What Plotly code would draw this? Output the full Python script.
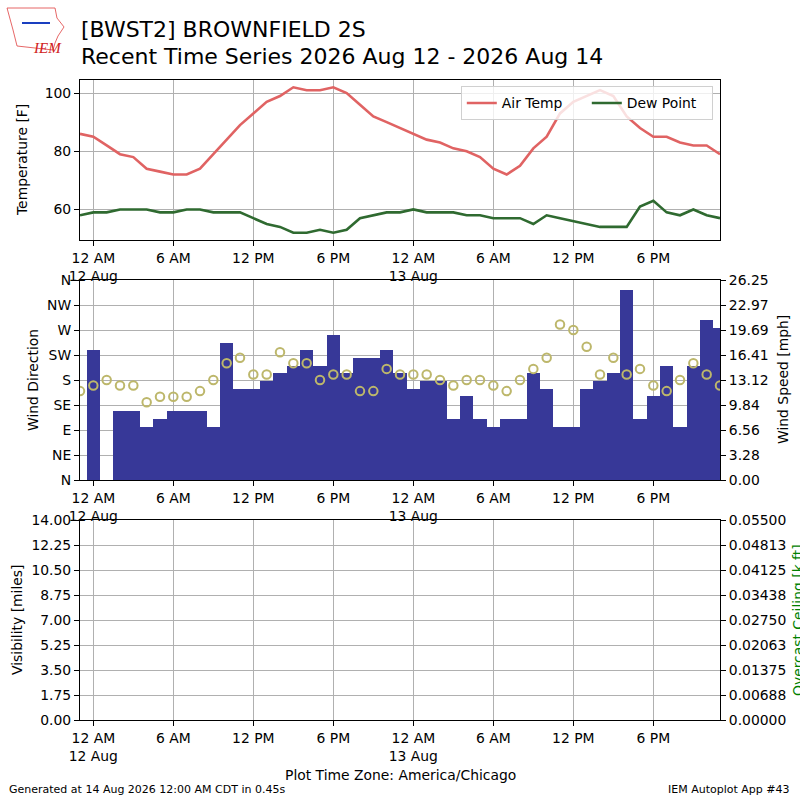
import pandas as pd
import plotly.graph_objects as go

# hourly observations, 11 PM 11 Aug through 11 PM 13 Aug (CDT)
times = pd.date_range("2026-08-11 23:00", periods=49, freq="h")

air_temp = [86, 85, 82, 79, 78, 74, 73, 72, 72, 74, 79, 84, 89, 93, 97, 99, 102, 101, 101,
            102, 100, 96, 92, 90, 88, 86, 84, 83, 81, 80, 78, 74, 72, 75, 81, 85, 93, 97,
            99, 101, 99, 92, 88, 85, 85, 83, 82, 82, 79]
dew_point = [58, 59, 59, 60, 60, 60, 59, 59, 60, 60, 59, 59, 59, 57, 55, 54, 52, 52, 53,
             52, 53, 57, 58, 59, 59, 60, 59, 59, 59, 58, 58, 57, 57, 57, 55, 58, 57, 56,
             55, 54, 54, 54, 61, 63, 59, 58, 60, 58, 57]
wind_speed = [0, 17, 0, 9, 9, 7, 8, 9, 9, 9, 7, 18, 12, 12, 13, 14, 15, 17, 15, 19, 14, 16,
              16, 17, 14, 12, 13, 13, 8, 11, 8, 7, 8, 8, 14, 12, 7, 7, 12, 13, 14, 25, 8,
              11, 15, 7, 15, 21, 20]
wind_dir = [160, 170, 180, 170, 170, 140, 150, 150, 150, 160, 180, 210, 220, 190, 190, 230,
            210, 210, 180, 190, 190, 160, 160, 200, 190, 190, 190, 180, 170, 180, 180, 170,
            160, 180, 200, 220, 280, 270, 240, 190, 220, 190, 200, 170, 160, 180, 210, 190,
            170]

x_tickvals = ["2026-08-12 00:00", "2026-08-12 06:00", "2026-08-12 12:00", "2026-08-12 18:00",
              "2026-08-13 00:00", "2026-08-13 06:00", "2026-08-13 12:00", "2026-08-13 18:00"]
x_ticktext = ["12 AM<br>12 Aug", "6 AM", "12 PM", "6 PM",
              "12 AM<br>13 Aug", "6 AM", "12 PM", "6 PM"]
temp_ticks = [60, 80, 100]
dir_ticks = [0, 45, 90, 135, 180, 225, 270, 315, 360]
dir_labels = ["N", "NE", "E", "SE", "S", "SW", "W", "NW", "N"]
speed_ticks = [0, 3.28125, 6.5625, 9.84375, 13.125, 16.40625, 19.6875, 22.96875, 26.25]
speed_labels = ["0.00", "3.28", "6.56", "9.84", "13.12", "16.41", "19.69", "22.97", "26.25"]
vis_ticks = [0, 1.75, 3.5, 5.25, 7, 8.75, 10.5, 12.25, 14]
vis_labels = ["0.00", "1.75", "3.50", "5.25", "7.00", "8.75", "10.50", "12.25", "14.00"]
ceil_ticks = [0, 0.006875, 0.01375, 0.020625, 0.0275, 0.034375, 0.04125, 0.048125, 0.055]
ceil_labels = ["0.00000", "0.00688", "0.01375", "0.02063", "0.02750", "0.03438", "0.04125",
               "0.04813", "0.05500"]

FONT = "DejaVu Sans"
FS = 13.9
GRID = "#b0b0b0"

fig = go.Figure()
fig.add_trace(go.Scatter(x=times, y=air_temp, mode="lines", name="Air Temp",
                         line=dict(color="#e06363", width=2.6), xaxis="x", yaxis="y"))
fig.add_trace(go.Scatter(x=times, y=dew_point, mode="lines", name="Dew Point",
                         line=dict(color="#2f6a30", width=2.6), xaxis="x", yaxis="y"))
fig.add_trace(go.Bar(x=times, y=wind_speed, width=3600 * 1000, marker_color="#373898",
                     marker_line_width=0, showlegend=False, xaxis="x2", yaxis="y3"))
fig.add_trace(go.Scatter(x=times, y=wind_dir, mode="markers", showlegend=False,
                         marker=dict(symbol="circle-open", size=8.5, color="#bdb76b",
                                     line=dict(width=2)),
                         xaxis="x2", yaxis="y4"))
fig.add_trace(go.Scatter(x=[], y=[], showlegend=False, xaxis="x3", yaxis="y5"))
fig.add_trace(go.Scatter(x=[], y=[], showlegend=False, xaxis="x3", yaxis="y6"))

xrange = ["2026-08-11 23:00", "2026-08-13 23:00"]
xcommon = dict(domain=[0.1, 0.9], type="date", range=xrange, tickmode="array",
               tickvals=x_tickvals, ticktext=x_ticktext, showgrid=True, gridcolor=GRID,
               gridwidth=1, ticks="outside", ticklen=5, tickcolor="black",
               showline=True, linecolor="black", linewidth=1.1, mirror=True,
               tickfont=dict(family=FONT, size=FS, color="black"), zeroline=False,
               automargin=False)
ycommon = dict(ticks="outside", ticklen=5, tickcolor="black", showline=True,
               linecolor="black", linewidth=1.1, zeroline=False, tickmode="array",
               tickfont=dict(family=FONT, size=FS, color="black"), gridcolor=GRID,
               gridwidth=1, automargin=False)

fig.update_layout(
    width=800, height=800,
    margin=dict(l=0, r=0, t=0, b=0, autoexpand=False),
    paper_bgcolor="white", plot_bgcolor="white",
    font=dict(family=FONT, size=FS, color="black"),
    bargap=0,
    xaxis=dict(xcommon, anchor="y"),
    xaxis2=dict(xcommon, anchor="y3"),
    xaxis3=dict(xcommon, anchor="y5"),
    yaxis=dict(ycommon, domain=[0.7, 0.9], range=[49.5, 104.5], tickvals=temp_ticks,
               showgrid=True, mirror=True, anchor="x"),
    yaxis3=dict(ycommon, domain=[0.4, 0.65], range=[0, 26.25], tickvals=speed_ticks,
                ticktext=speed_labels, side="right", showgrid=True, anchor="x2"),
    yaxis4=dict(ycommon, overlaying="y3", range=[0, 360], tickvals=dir_ticks,
                ticktext=dir_labels, side="left", showgrid=False, anchor="x2"),
    yaxis5=dict(ycommon, domain=[0.1, 0.35], range=[0, 14], tickvals=vis_ticks,
                ticktext=vis_labels, side="left", showgrid=True, anchor="x3"),
    yaxis6=dict(ycommon, overlaying="y5", range=[0, 0.055], tickvals=ceil_ticks,
                ticktext=ceil_labels, side="right", showgrid=False, anchor="x3"),
    legend=dict(orientation="h", x=0.891, xanchor="right", y=0.892, yanchor="top",
                bgcolor="rgba(255,255,255,0.8)", bordercolor="#d0d0d0", borderwidth=1,
                entrywidth=80, entrywidthmode="pixels",
                font=dict(family=FONT, size=FS)),
)


def pp(x, y):
    return x / 800, 1 - y / 800


def note(text, x, y, size=FS, color="black", angle=0, xanchor="center", yanchor="middle"):
    px, py = pp(x, y)
    fig.add_annotation(text=text, x=px, y=py, xref="paper", yref="paper", showarrow=False,
                       textangle=angle, xanchor=xanchor, yanchor=yanchor,
                       font=dict(family=FONT, size=size, color=color))


note("[BWST2] BROWNFIELD 2S", 79, 30, size=22, xanchor="left")
note("Recent Time Series 2026 Aug 12 - 2026 Aug 14", 79, 56.5, size=22, xanchor="left")
note("Temperature [F]", 22, 160, angle=-90)
note("Wind Direction", 33, 380, angle=-90)
note("Wind Speed [mph]", 783, 380, angle=-90)
note("Visibility [miles]", 17, 620, angle=-90)
note("Overcast Ceiling [k ft]", 798, 620, color="green", angle=-90)
note("Plot Time Zone: America/Chicago", 400, 775)
note("Generated at 14 Aug 2026 12:00 AM CDT in 0.45s", 7, 789, size=11, xanchor="left")
note("IEM Autoplot App #43", 792, 789, size=11, xanchor="right")

# rough IEM logo: state outline, station glyph and lettering
outline = [(7, 8), (55, 8), (57, 18), (64, 27), (58, 36), (55, 43), (53, 50), (17, 46), (13, 30)]
path = "M " + " L ".join("%.4f,%.4f" % pp(x, y) for x, y in outline) + " Z"
fig.add_shape(type="path", path=path, xref="paper", yref="paper",
              line=dict(color="#e04040", width=0.8))
x0, y0 = pp(22, 23)
x1, y1 = pp(50, 23)
fig.add_shape(type="line", x0=x0, y0=y0, x1=x1, y1=y1, xref="paper", yref="paper",
              line=dict(color="#1a3fc0", width=2))
lx, ly = pp(31, 38)
fig.add_annotation(text="<i>IEM</i>", x=lx, y=ly, xref="paper", yref="paper",
                   showarrow=False, font=dict(family="Liberation Serif", size=15, color="#d02020"))

# the page body has a default 8px margin; drop it so the figure sits at the corner
fig.write_html("out.html", config={"displayModeBar": False},
               post_script="document.body.style.margin='0px';")
